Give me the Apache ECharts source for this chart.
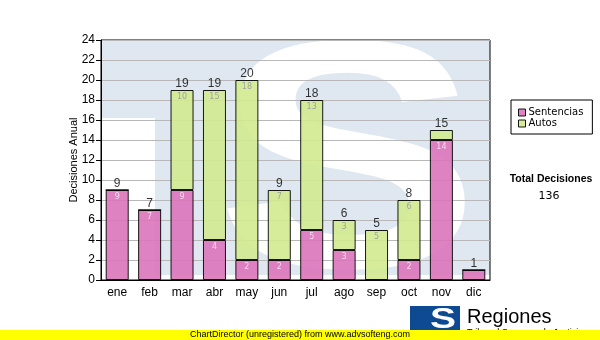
<!DOCTYPE html>
<html>
<head>
<meta charset="utf-8">
<script src="https://cdn.jsdelivr.net/npm/echarts@6/dist/echarts.min.js"></script>
<style>
  html, body { margin: 0; padding: 0; background: #fff; }
  #chart { width: 600px; height: 340px; }
</style>
</head>
<body>
<div id="chart"></div>
<script>
// Monthly decisions, split by type
const months = ['ene', 'feb', 'mar', 'abr', 'may', 'jun', 'jul', 'ago', 'sep', 'oct', 'nov', 'dic'];
const sentencias = [9, 7, 9, 4, 2, 2, 5, 3, 0, 2, 14, 1];
const autos = [0, 0, 10, 15, 18, 7, 13, 3, 5, 6, 1, 0];
const totals = [9, 7, 19, 19, 20, 9, 18, 6, 5, 8, 15, 1];
const totalDecisiones = 136;
const yMin = 0, yMax = 24, yStep = 2;

const GRID = { left: 101, top: 40, width: 389, height: 240 };
const WM_BLUE = '#dfe8f1';

const chart = echarts.init(document.getElementById('chart'), null, { renderer: 'canvas' });

function innerLabel(color) {
  return {
    show: true,
    position: 'insideTop',
    distance: 3,
    color: color,
    fontFamily: 'DejaVu Sans',
    fontSize: 8,
    formatter: p => (p.value >= 2 ? String(p.value) : '')
  };
}

chart.setOption({
  animation: false,
  backgroundColor: '#ffffff',
  grid: {
    left: GRID.left, top: GRID.top, width: GRID.width, height: GRID.height,
    show: true, borderColor: '#000', borderWidth: 1, backgroundColor: 'transparent'
  },
  legend: {
    data: ['Sentencias', 'Autos'],
    orient: 'vertical',
    left: 511, top: 100,
    padding: [7, 9, 5, 7],
    itemGap: 0,
    icon: 'rect',
    itemWidth: 7, itemHeight: 7,
    itemStyle: { borderColor: '#000', borderWidth: 1 },
    borderColor: '#000', borderWidth: 1,
    textStyle: { fontFamily: 'DejaVu Sans', fontSize: 10, color: '#000', padding: [0, 0, 0, -2], lineHeight: 11 },
    selectedMode: false
  },
  xAxis: {
    type: 'category',
    data: months,
    axisLine: { lineStyle: { color: '#000', width: 1 } },
    axisTick: { alignWithLabel: true, length: 4, lineStyle: { color: '#000' } },
    axisLabel: { color: '#000', fontFamily: 'Liberation Sans', fontSize: 12, margin: 7 },
    z: 3
  },
  yAxis: {
    type: 'value',
    min: yMin, max: yMax, interval: yStep,
    name: 'Decisiones Anual',
    nameLocation: 'middle',
    nameGap: 22,
    nameMoveOverlap: false,
    nameTextStyle: { color: '#000', fontFamily: 'Liberation Sans', fontSize: 11 },
    axisLine: { show: true, lineStyle: { color: '#000', width: 1 } },
    axisTick: { show: true, length: 5, lineStyle: { color: '#000' } },
    axisLabel: { color: '#000', fontFamily: 'Liberation Sans', fontSize: 12, margin: 6 },
    splitLine: { show: true, lineStyle: { color: '#b8b8b8', width: 1 } },
    z: 1
  },
  graphic: [
    // faint logo watermark behind the plot
    {
      type: 'polygon', z: -10, silent: true,
      shape: { points: [[101, 40], [490, 40], [490, 275], [155, 275], [155, 118], [101, 118]] },
      style: { fill: WM_BLUE }
    },
    {
      type: 'text', z: -9, silent: true,
      x: 348, y: 177, scaleX: 1.22,
      style: {
        text: 'S', fill: '#ffffff',
        font: 'bold 325px "Liberation Sans"',
        align: 'center', verticalAlign: 'middle'
      }
    },
    // totals panel
    {
      type: 'text', x: 551, y: 179, silent: true,
      style: { text: 'Total Decisiones', fill: '#000', font: 'bold 10.5px "Liberation Sans"', align: 'center', verticalAlign: 'middle' }
    },
    {
      type: 'text', x: 549, y: 196, silent: true,
      style: { text: String(totalDecisiones), fill: '#000', font: '11px "DejaVu Sans"', align: 'center', verticalAlign: 'middle' }
    },
    // logo
    {
      type: 'rect', silent: true, z: 5,
      shape: { x: 410, y: 306, width: 50, height: 26 },
      style: { fill: '#0d4a92' }
    },
    {
      type: 'text', x: 443, y: 320, silent: true, z: 6, scaleX: 1.3,
      style: { text: 'S', fill: '#ffffff', font: 'bold 30px "Liberation Sans"', align: 'center', verticalAlign: 'middle' }
    },
    {
      type: 'text', x: 467, y: 317, silent: true, z: 5,
      style: { text: 'Regiones', fill: '#000', font: '20px "Liberation Sans"', align: 'left', verticalAlign: 'middle' }
    },
    {
      type: 'text', x: 467, y: 328, silent: true, z: 5,
      style: { text: 'Tribunal Supremo de Justicia', fill: '#000', font: '9px "Liberation Sans"', align: 'left', verticalAlign: 'top' }
    },
    // footer band
    {
      type: 'rect', silent: true, z: 8,
      shape: { x: 0, y: 330, width: 600, height: 10 },
      style: { fill: '#ffff00' }
    },
    {
      type: 'text', x: 300, y: 335, silent: true, z: 9,
      style: { text: 'ChartDirector (unregistered) from www.advsofteng.com', fill: '#000', font: '9px "Liberation Sans"', align: 'center', verticalAlign: 'middle' }
    }
  ],
  series: [
    {
      name: 'Sentencias',
      type: 'bar',
      stack: 'dec',
      barWidth: 23,
      data: sentencias,
      itemStyle: { color: '#dc74bb', borderColor: '#000', borderWidth: 1, opacity: 0.9 },
      label: innerLabel('#f6e4f0'),
      z: 4
    },
    {
      name: 'Autos',
      type: 'bar',
      stack: 'dec',
      barWidth: 23,
      data: autos,
      itemStyle: { color: '#d2ea90', borderColor: '#000', borderWidth: 1, opacity: 0.9 },
      label: innerLabel('#9a9a9a'),
      z: 4
    },
    {
      name: 'Total',
      type: 'scatter',
      data: totals,
      symbolSize: 0,
      silent: true,
      label: {
        show: true, position: 'top', distance: 0,
        color: '#000', fontFamily: 'Liberation Sans', fontSize: 12,
        formatter: p => String(p.value)
      },
      z: 5
    }
  ]
});
</script>
</body>
</html>
